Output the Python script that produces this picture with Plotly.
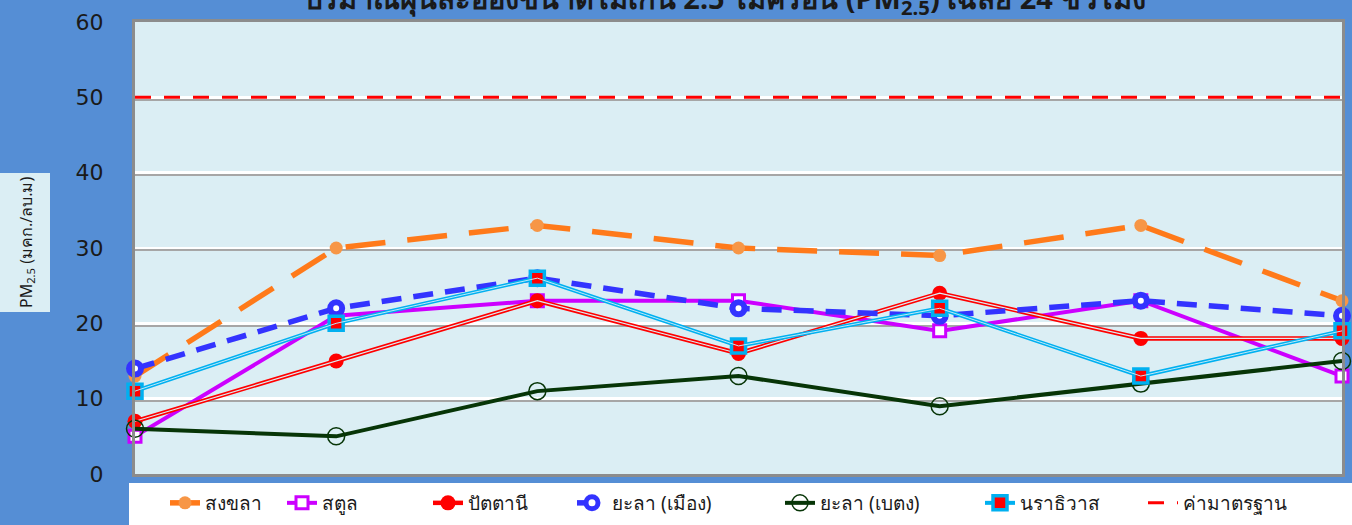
import plotly.graph_objects as go

x_pos = [0, 1, 2, 3, 4, 5, 6]
songkhla = [13, 30, 33, 30, 29, 33, 23]
satun = [5, 21, 23, 23, 19, 23, 13]
pattani = [7, 15, 23, 16, 24, 18, 18]
yala_mueang = [14, 22, 26, 22, 21, 23, 21]
yala_betong = [6, 5, 11, 13, 9, 12, 15]
narathiwat = [11, 20, 26, 17, 22, 13, 19]
standard = [50, 50, 50, 50, 50, 50, 50]
y_ticks = [0, 10, 20, 30, 40, 50, 60]

PLOT_BG = "#DBEEF4"
FONT = "Noto Sans, DejaVu Sans, sans-serif"

L, R, T, B = 135, 10, 22, 51
W, H = 1352, 525
PW = W - L - R
PH = H - T - B


def px_x(p):
    return (p - L) / PW


def px_y(p):
    return (H - B - p) / PH


fig = go.Figure()

fig.add_trace(go.Scatter(x=x_pos, y=songkhla, name="สงขลา", mode="lines+markers",
                         legend="legend",
                         line=dict(color="#FF7A1A", width=5.5, dash="40px,22px"),
                         marker=dict(symbol="circle", size=13, color="#F79646")))
fig.add_trace(go.Scatter(x=x_pos, y=satun, name="สตูล", mode="lines+markers",
                         legend="legend2",
                         line=dict(color="#CC00FF", width=4),
                         marker=dict(symbol="square", size=12, color="white",
                                     line=dict(color="#CC00FF", width=3))))
fig.add_trace(go.Scatter(x=x_pos, y=pattani, name="ปัตตานี", mode="lines+markers",
                         legend="legend3",
                         line=dict(color="#FF0000", width=4.5),
                         marker=dict(symbol="circle", size=15, color="#FF0000")))
fig.add_trace(go.Scatter(x=x_pos, y=pattani, showlegend=False, mode="lines",
                         hoverinfo="skip",
                         line=dict(color=PLOT_BG, width=1.2)))
fig.add_trace(go.Scatter(x=x_pos, y=yala_mueang, name="ยะลา (เมือง)", mode="lines+markers",
                         legend="legend4",
                         line=dict(color="#3333FF", width=5.5, dash="20px,12px"),
                         marker=dict(symbol="circle", size=12, color="white",
                                     line=dict(color="#3333FF", width=6))))
fig.add_trace(go.Scatter(x=x_pos, y=yala_betong, name="ยะลา (เบตง)", mode="lines+markers",
                         legend="legend5",
                         line=dict(color="#073507", width=4),
                         marker=dict(symbol="circle-open", size=17, color="#073507",
                                     line=dict(width=1.5))))
fig.add_trace(go.Scatter(x=x_pos, y=narathiwat, name="นราธิวาส", mode="lines+markers",
                         legend="legend6",
                         line=dict(color="#00B0F0", width=4),
                         marker=dict(symbol="square", size=14, color="#FF0000",
                                     line=dict(color="#00B0F0", width=3.5))))
fig.add_trace(go.Scatter(x=x_pos, y=narathiwat, showlegend=False, mode="lines",
                         hoverinfo="skip",
                         line=dict(color="#BFE9F8", width=1)))
fig.add_trace(go.Scatter(x=x_pos, y=standard, name="ค่ามาตรฐาน", mode="lines",
                         legend="legend7",
                         line=dict(color="#FF0000", width=3, dash="16px,13px")))
# helper for gridline shadow axis
fig.add_trace(go.Scatter(x=[], y=[], yaxis="y2", showlegend=False, hoverinfo="skip"))

fig.update_traces(cliponaxis=False, selector=dict(mode="lines+markers"))

legend_text_x = [205, 322, 468, 612, 820, 1020, 1183]
legend_common = dict(orientation="h", xanchor="left", yanchor="middle",
                     y=px_y(503), bgcolor="rgba(0,0,0,0)",
                     font=dict(size=19, color="#1A1A1A"), itemwidth=30)
legend_layout = {}
for i, tx in enumerate(legend_text_x):
    key = "legend" if i == 0 else f"legend{i + 1}"
    legend_layout[key] = dict(legend_common, x=px_x(tx - 40))

fig.update_layout(
    width=W, height=H,
    margin=dict(l=L, r=R, t=T, b=B, autoexpand=False),
    paper_bgcolor="#558ED5",
    plot_bgcolor=PLOT_BG,
    font=dict(family=FONT, color="#1A1A1A"),
    title=dict(text="<b>ปริมาณฝุ่นละอองขนาดไม่เกิน 2.5 ไมครอน (PM<sub>2.5</sub>) เฉลี่ย 24 ชั่วโมง</b>",
               x=0.536, xanchor="center", xref="container",
               y=1 - 9 / H, yanchor="bottom", yref="container",
               font=dict(size=29, color="#1A1A1A")),
    xaxis=dict(range=[0, 6], showticklabels=False, showgrid=False, zeroline=False,
               showline=True, linecolor="#8C8C8C", linewidth=3, mirror=True, ticks=""),
    yaxis=dict(range=[0, 60], tickvals=y_ticks, showgrid=True, gridcolor="white", gridwidth=2.5,
               zeroline=False, showline=True, linecolor="#8C8C8C", linewidth=3, mirror=True,
               ticks="", ticklabelstandoff=24,
               tickfont=dict(family="DejaVu Sans", size=22, color="#1A1A1A")),
    yaxis2=dict(range=[0.3, 60.3], overlaying="y", tickvals=[10, 20, 30, 40, 50],
                showgrid=True, gridcolor="#A6A6A6", gridwidth=2, showticklabels=False,
                zeroline=False, showline=False, ticks=""),
    showlegend=True,
    **legend_layout,
)

# legend white box
fig.add_shape(type="rect", xref="paper", yref="paper",
              x0=px_x(129), x1=px_x(W + 5),
              y0=px_y(H + 5), y1=px_y(483),
              fillcolor="white", line=dict(width=0), layer="below")

# y-axis title box
fig.add_shape(type="rect", xref="paper", yref="paper",
              x0=px_x(-5), x1=px_x(50),
              y0=px_y(312), y1=px_y(173),
              fillcolor=PLOT_BG, line=dict(width=0), layer="below")
fig.add_annotation(text="PM<sub>2.5</sub> (มคก./ลบ.ม)", textangle=-90,
                   xref="paper", yref="paper",
                   x=px_x(26), y=px_y(243),
                   xanchor="center", yanchor="middle", showarrow=False,
                   font=dict(size=16, color="#1A1A1A"))

fig.write_html("out.html", config={"displayModeBar": False},
               post_script="document.body.style.margin='0';document.body.style.overflow='hidden';")
